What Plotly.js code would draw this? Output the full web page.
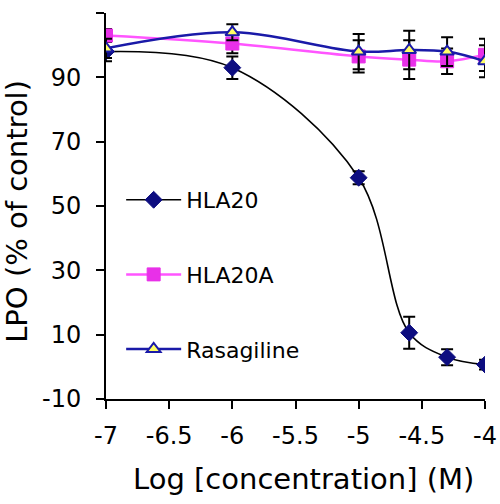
<!DOCTYPE html>
<html><head><meta charset="utf-8">
<script src="https://cdn.plot.ly/plotly-3.0.1.min.js"></script>
<style>html,body{margin:0;padding:0;background:#fff}#chart{width:500px;height:504px}</style>
</head><body><div id="chart"></div>
<script>
var logConc = [-7, -6, -5, -4.6, -4.3, -4];
var hla20 = [98, 93, 58.8, 10.6, 3, 0.7];
var hla20Err = [3, 3.5, 2, 5, 2.5, 1.5];
var hla20a = [103, 100.5, 96.5, 95.5, 95, 97];
var hla20aErr = [2, 3, 5, 6, 4, 5];
var rasagiline = [99, 104, 98, 98.5, 98, 95];
var rasagilineErr = [3, 2.5, 5.5, 6, 4.5, 5];
var yTicks = [-10, 10, 30, 50, 70, 90, 110];
var yTickText = ['-10', '10', '30', '50', '70', '90', '110'];
var xTicks = [-7, -6.5, -6, -5.5, -5, -4.5, -4];
var xTickText = ['-7', '-6.5', '-6', '-5.5', '-5', '-4.5', '-4'];

var FONT = 'DejaVu Sans, sans-serif';
function err(a){return {type:'data', array:a, visible:true, color:'#000', thickness:2, width:6};}

var traces = [
  {x: logConc, y: hla20, name: 'HLA20', type: 'scatter', mode: 'lines+markers',
   line: {color: '#000', width: 1.6, shape: 'spline', smoothing: 1},
   marker: {symbol: 'diamond', size: 13, color: '#0d0d80', line: {color: '#0d0d80', width: 1}},
   error_y: err(hla20Err), legendgroup: 'a'},
  {x: logConc, y: hla20a, name: 'HLA20A', type: 'scatter', mode: 'lines+markers',
   line: {color: '#ff55ff', width: 2.5, shape: 'spline', smoothing: 1},
   marker: {symbol: 'square', size: 13, color: '#e830e8', line: {color: '#e830e8', width: 1}},
   error_y: err(hla20aErr), legendgroup: 'b'},
  {x: logConc, y: rasagiline, name: 'Rasagiline', type: 'scatter', mode: 'lines+markers',
   line: {color: '#1a1aa8', width: 2.5, shape: 'spline', smoothing: 1},
   marker: {symbol: 'triangle-up', size: 12, color: '#ffff66', line: {color: '#1a1aa8', width: 2}},
   error_y: err(rasagilineErr), legendgroup: 'c'}
];

var layout = {
  width: 500, height: 504,
  margin: {l: 106, r: 15, t: 13, b: 105},
  paper_bgcolor: '#fff', plot_bgcolor: '#fff',
  font: {family: FONT, color: '#000'},
  showlegend: true,
  legend: {x: 0.04, y: 0.57, xanchor: 'left', yanchor: 'top', bgcolor: 'rgba(0,0,0,0)',
           font: {family: FONT, size: 22, color: '#000'}, tracegroupgap: 43, itemwidth: 55},
  xaxis: {range: [-7, -4], tickvals: xTicks, ticktext: xTickText, showgrid: false, zeroline: false,
          showline: true, linecolor: '#000', linewidth: 2, ticks: 'outside', ticklen: 8, tickwidth: 2,
          tickcolor: '#000', tickfont: {family: FONT, size: 24, color: '#000'}, ticklabelstandoff: 6},
  yaxis: {range: [-10, 110], tickvals: yTicks, ticktext: yTickText, showgrid: false, zeroline: false,
          showline: true, linecolor: '#000', linewidth: 2, ticks: 'outside', ticklen: 8, tickwidth: 2,
          tickcolor: '#000', tickfont: {family: FONT, size: 24, color: '#000'}, ticklabelstandoff: 10},
  annotations: [
    {text: 'Log [concentration] (M)', xref: 'paper', yref: 'paper', x: 0.52, y: 0, yshift: -80,
     xanchor: 'center', yanchor: 'middle', showarrow: false, font: {family: FONT, size: 29, color: '#000'}},
    {text: 'LPO (% of control)', xref: 'paper', yref: 'paper', x: 0, y: 0.485, xshift: -89,
     xanchor: 'center', yanchor: 'middle', textangle: -90, showarrow: false,
     font: {family: FONT, size: 29, color: '#000'}}
  ]
};
Plotly.newPlot('chart', traces, layout, {staticPlot: true, displayModeBar: false});
</script></body></html>
